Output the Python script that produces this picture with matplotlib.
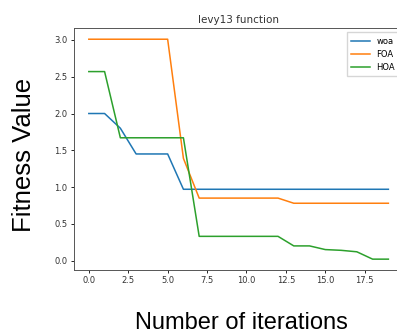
import matplotlib.pyplot as plt

# best fitness per iteration on the levy13 benchmark
iterations = list(range(20))
woa = [2.0, 2.0, 1.80, 1.45, 1.45, 1.45, 0.97, 0.97, 0.97, 0.97,
       0.97, 0.97, 0.97, 0.97, 0.97, 0.97, 0.97, 0.97, 0.97, 0.97]
foa = [3.01, 3.01, 3.01, 3.01, 3.01, 3.01, 1.39, 0.85, 0.85, 0.85,
       0.85, 0.85, 0.85, 0.78, 0.78, 0.78, 0.78, 0.78, 0.78, 0.78]
hoa = [2.57, 2.57, 1.67, 1.67, 1.67, 1.67, 1.67, 0.33, 0.33, 0.33,
       0.33, 0.33, 0.33, 0.20, 0.20, 0.15, 0.14, 0.12, 0.02, 0.02]

fig = plt.figure(figsize=(3.97, 3.36), dpi=100)
ax = fig.add_axes([0.186, 0.196, 0.83, 0.72])

ax.plot(iterations, woa, color='#1f77b4', lw=1.1, label='woa')
ax.plot(iterations, foa, color='#ff7f0e', lw=1.1, label='FOA')
ax.plot(iterations, hoa, color='#2ca02c', lw=1.1, label='HOA')

ax.set_title('levy13 function', fontsize=7.5, pad=4, color='#333333')
ax.tick_params(labelsize=6, length=2.5, width=0.6, pad=2, labelcolor='#333333')
for s in ax.spines.values():
    s.set_linewidth(0.7)
    s.set_color('#555555')
ax.legend(loc='upper right', fontsize=6, handlelength=2.2, borderpad=0.5,
          labelspacing=0.5, fancybox=False, edgecolor='#cccccc')

# big axis labels placed on the figure
fig.text(0.06, 0.539, 'Fitness Value', rotation=90, ha='center', va='center',
         fontsize=18.5, family='Liberation Sans')
fig.text(0.607, 0.039, 'Number of iterations', ha='center', va='center',
         fontsize=17, family='Liberation Sans')

fig.savefig('out.png', dpi=100)
